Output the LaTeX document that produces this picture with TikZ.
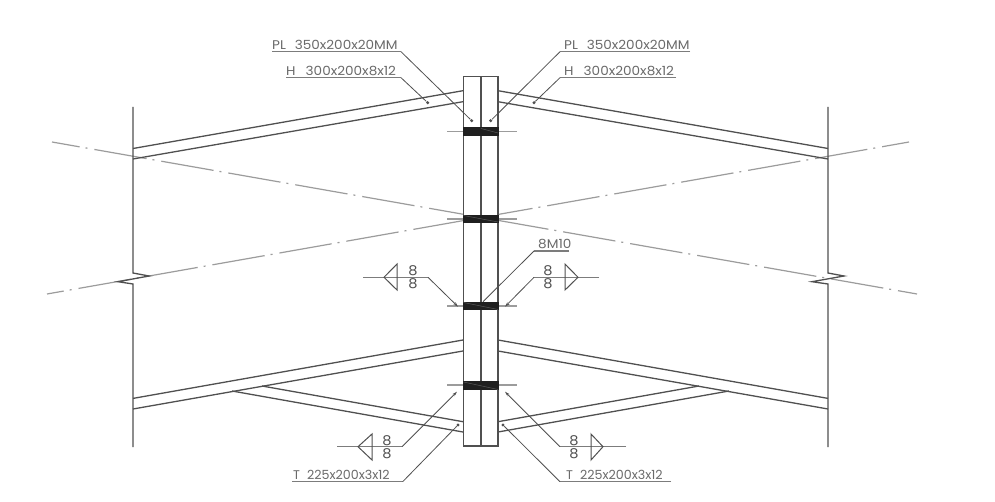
\documentclass[tikz,border=0pt]{standalone}
\usepackage{fontspec}
\setmainfont{Poppins}[FakeStretch=1.08]
\usetikzlibrary{arrows.meta}
\definecolor{ink}{HTML}{505050}
\definecolor{cl}{HTML}{9C9C9C}
\tikzset{
  member/.style={draw=ink,line width=1.3pt},
  thin member/.style={draw=ink,line width=1pt},
  tick/.style={draw=cl,line width=1.1pt},
  band/.style={draw=none,fill=black!88},
  centre/.style={draw=cl,line width=1.2pt},
  leader/.style={draw=ink,line width=0.8pt},
  rule/.style={draw=ink!75,line width=1.3pt},
  arrowed/.style={leader,-{Stealth[length=5pt,width=3pt]}},
  lbl/.style={inner sep=0pt,anchor=base west,text=ink!85,font=\fontsize{12.6}{13}\selectfont},
  tlbl/.style={lbl,xscale=.93,transform shape},
  weldnum/.style={inner sep=0pt,text=ink,font=\fontsize{13.5}{14}\selectfont},
  dotm/.style={circle,fill=ink,inner sep=0pt,minimum size=3.4pt},
}
\newcommand{\gapw}{\hspace{.7em}}
\newcommand{\gapH}{\hspace{.8em}}
\newcommand{\gapT}{\hspace{.6em}}
\begin{document}
\begin{tikzpicture}[x=1pt,y=-1pt]
\useasboundingbox (0,0) rectangle (995,502);
\fill[white] (0,0) rectangle (995,502);
% centre lines
\coordinate (c1a) at (52,142); \coordinate (c1b) at (917,294);
\coordinate (c2a) at (47,294); \coordinate (c2b) at (909,142);
\draw[centre,dash pattern=on 53pt off 6pt on 2pt off 7pt,dash phase=25pt] (c1a) -- (c1b);
\draw[centre,dash pattern=on 53pt off 6pt on 2pt off 7pt,dash phase=36pt] (c2a) -- (c2b);
% outer columns
\coordinate (lt) at (133,107); \coordinate (lb1) at (133,273); \coordinate (lb2) at (149,276);
\coordinate (lb3) at (118,281.7); \coordinate (lb4) at (133,284); \coordinate (le) at (133,447);
\draw[member] (lt) -- (lb1) -- (lb2) -- (lb3) -- (lb4) -- (le);
\coordinate (rt) at (828,107); \coordinate (rb1) at (828,273); \coordinate (rb2) at (844,276);
\coordinate (rb3) at (812,281.7); \coordinate (rb4) at (828,284); \coordinate (re) at (828,447);
\draw[member] (rt) -- (rb1) -- (rb2) -- (rb3) -- (rb4) -- (re);
% top beams
\draw[member] (133,148.5) -- (463,90.7);
\draw[member] (133,159) -- (463,101.7);
\draw[member] (498,90.7) -- (828,148.5);
\draw[member] (498,101.7) -- (828,159);
% lower beams
\draw[member] (133,398.4) -- (463,340);
\draw[member] (133,409) -- (463,351);
\draw[member] (498,340) -- (828,398.4);
\draw[member] (498,351) -- (828,409);
% T haunches
\draw[member] (262,386) -- (463,421.7);
\draw[member] (232,391) -- (463,432);
\draw[member] (498,421.7) -- (699,386);
\draw[member] (498,432) -- (729,391);
% ticks
\foreach \y in {131.7,219,306,385}{
  \draw[tick] (447,\y) -- (463,\y);
  \draw[tick] (498,\y) -- (517,\y);
}
% central column
\fill[white] (463.5,76.7) rectangle (498,446);
\draw[member] (463.5,76.7) rectangle (498,446);
\draw[member] (481,76.7) -- (481,446);
\fill[band] (463,127) rectangle (498.5,136);
\fill[band] (463,214.7) rectangle (498.5,223);
\fill[band] (463,301.7) rectangle (498.5,310);
\fill[band] (463,381) rectangle (498.5,390);
\draw[black!65,line width=.5pt] (481,128.5) -- (498,133);
\draw[black!65,line width=.5pt] (463.5,215.5) -- (498,222);
\draw[black!65,line width=.5pt] (463.5,302.5) -- (498,309.5);
\draw[black!65,line width=.5pt] (463.5,382) -- (498,389.5);
% labels with leaders
\node[lbl] (plL) at (272,49.5) {PL\gapw 350x200x20MM};
\coordinate (plLa) at (272,51.7); \coordinate (plLb) at (401,51.7);
\node[dotm] (plLd) at (471.7,120.7) {};
\draw[rule] (plLa) -- (plLb); \draw[leader] (plLb) -- (plLd);
\node[lbl] (hL) at (286,75.5) {H\gapH 300x200x8x12};
\coordinate (hLa) at (286,77.7); \coordinate (hLb) at (401,77.7);
\node[dotm] (hLd) at (427.7,102.7) {};
\draw[rule] (hLa) -- (hLb); \draw[leader] (hLb) -- (hLd);
\node[lbl] (plR) at (564,49.5) {PL\gapw 350x200x20MM};
\coordinate (plRa) at (690,51.7); \coordinate (plRb) at (560,51.7);
\node[dotm] (plRd) at (490.7,120.7) {};
\draw[rule] (plRa) -- (plRb); \draw[leader] (plRb) -- (plRd);
\node[lbl] (hR) at (564,75.5) {H\gapH 300x200x8x12};
\coordinate (hRa) at (676,77.7); \coordinate (hRb) at (560,77.7);
\node[dotm] (hRd) at (534,102.7) {};
\draw[rule] (hRa) -- (hRb); \draw[leader] (hRb) -- (hRd);
\node[lbl] (bolt) at (538,249) {8M10};
\coordinate (boltA) at (569,251); \coordinate (boltB) at (534,251); \coordinate (boltC) at (483,301.7);
\draw[rule] (boltA) -- (boltB); \draw[leader] (boltB) -- (boltC);
\node[tlbl] (tL) at (293,479.5) {T\gapT 225x200x3x12};
\coordinate (tLa) at (292,481.7); \coordinate (tLb) at (402.7,481.7);
\node[dotm] (tLd) at (458,425) {};
\draw[rule] (tLa) -- (tLb); \draw[leader] (tLb) -- (tLd);
\node[tlbl] (tR) at (566,479.5) {T\gapT 225x200x3x12};
\coordinate (tRa) at (671,481.7); \coordinate (tRb) at (560,481.7);
\node[dotm] (tRd) at (503,425) {};
\draw[rule] (tRa) -- (tRb); \draw[leader] (tRb) -- (tRd);
% weld symbols
\coordinate (w1a) at (363,277.3); \coordinate (w1b) at (428,277.3); \coordinate (w1c) at (458,306.7);
\draw[rule,line width=1pt] (w1a) -- (w1b); \draw[arrowed] (w1b) -- (w1c);
\draw[thin member] (397,264) -- (384,277.3) -- (397,290) -- cycle;
\node[weldnum] (w1u) at (413,271) {8}; \node[weldnum] (w1d) at (413,284) {8};
\coordinate (w2a) at (599,277.3); \coordinate (w2b) at (534,277.3); \coordinate (w2c) at (505,306.7);
\draw[rule,line width=1pt] (w2a) -- (w2b); \draw[arrowed] (w2b) -- (w2c);
\draw[thin member] (565,264) -- (578,277.3) -- (565,290) -- cycle;
\node[weldnum] (w2u) at (548,271) {8}; \node[weldnum] (w2d) at (548,284) {8};
\coordinate (w3a) at (337,446.7); \coordinate (w3b) at (402,446.7); \coordinate (w3c) at (457,391.7);
\draw[rule,line width=1pt] (w3a) -- (w3b); \draw[arrowed] (w3b) -- (w3c);
\draw[thin member] (372,434) -- (358,446.7) -- (372,460) -- cycle;
\node[weldnum] (w3u) at (387,440.5) {8}; \node[weldnum] (w3d) at (387,453.5) {8};
\coordinate (w4a) at (626,446.7); \coordinate (w4b) at (560,446.7); \coordinate (w4c) at (505,391.7);
\draw[rule,line width=1pt] (w4a) -- (w4b); \draw[arrowed] (w4b) -- (w4c);
\draw[thin member] (591,434) -- (603,446.7) -- (591,460) -- cycle;
\node[weldnum] (w4u) at (574,440.5) {8}; \node[weldnum] (w4d) at (574,453.5) {8};
\end{tikzpicture}
\end{document}
